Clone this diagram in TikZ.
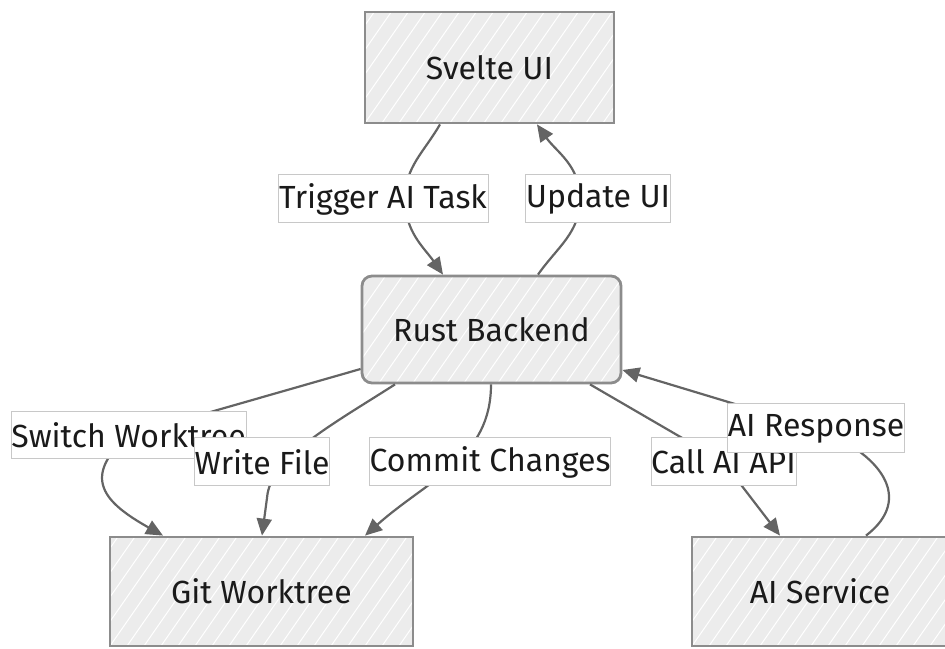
\documentclass[tikz,border=0pt]{standalone}
\usepackage{fontspec}
\setmainfont{Fira Sans}
\usetikzlibrary{arrows.meta,calc}
\definecolor{boxfill}{HTML}{ECECEC}
\definecolor{boxline}{HTML}{8C8C8C}
\definecolor{edgecol}{HTML}{646464}
\definecolor{txt}{HTML}{1A1A1A}
\definecolor{lblline}{HTML}{C8C8C8}
\tikzset{
  hatch/.style={path picture={
    \foreach \i in {-30,...,30}{
      \draw[white,line width=1pt] ($(path picture bounding box.south west)+(\i*17,0)$) -- ++(160,230);
    }}},
  box/.style={draw=boxline, line width=2.8pt, fill=boxfill, hatch, text=txt,
    font=\fontsize{32}{38}\selectfont, inner sep=0pt},
  lbl/.style={draw=lblline, line width=1pt, fill=white, text=txt,
    font=\fontsize{32}{38}\selectfont, inner sep=0pt, minimum height=48pt},
  edge/.style={draw=edgecol, line width=2.2pt},
  arr/.style={edge, -{Triangle[length=17pt,width=15pt]}},
}
\begin{document}
\begin{tikzpicture}[x=1pt,y=1pt]
\useasboundingbox (0,0) rectangle (945,648);
% nodes
\node[box, minimum width=249pt, minimum height=111pt] (svelte) at (489.5,580.5) {Svelte UI};
\node[box, rounded corners=10pt, minimum width=259pt, minimum height=107pt] (rust) at (491.5,318.5) {Rust Backend};
\node[box, minimum width=303pt, minimum height=109pt] (git) at (261.5,56.5) {Git Worktree};
\node[box, minimum width=256pt, minimum height=109pt] (ai) at (820,56.5) {AI Service};
% label positions
\coordinate (c-trig) at (383,449);
\coordinate (c-upd) at (598,449);
\coordinate (c-sw) at (128.5,212.5);
\coordinate (c-wf) at (262,186);
\coordinate (c-cc) at (490,186);
\coordinate (c-call) at (723.5,186);
\coordinate (c-resp) at (816,219.5);
% edges
\draw[arr] (svelte.south -| 440,0) to[out=-120,in=90] (405,449) to[out=-90,in=125] (rust.north -| 443,0);
\draw[arr] (rust.north -| 538,0) to[out=55,in=-90] (580,449) to[out=90,in=-55] (svelte.south -| 537,0);
\draw[arr] (rust.west |- 0,279) -- (c-sw) .. controls (80,170) and (105,145) .. (git.north -| 163,0);
\draw[arr] (rust.south -| 395,0) .. controls (330,222) and (270,190) .. (267,150) .. controls (265,135) .. (git.north -| 262,0);
\draw[arr] (rust.south -| 491,0) .. controls (491,190) and (430,170) .. (git.north -| 365,0);
\draw[arr] (rust.south -| 590,0) -- (c-call) -- (ai.north -| 780,0);
\draw[arr] (ai.north -| 866,0) .. controls (915,150) and (880,195) .. (c-resp) -- (rust.east |- 0,278);
% labels
\node[lbl, minimum width=210pt] (trig) at (c-trig) {Trigger AI Task};
\node[lbl, minimum width=144pt] (upd) at (c-upd) {Update UI};
\node[lbl, minimum width=235pt, minimum height=47pt] (sw) at (c-sw) {Switch Worktree};
\node[lbl, minimum width=134pt] (wf) at (c-wf) {Write File};
\node[lbl, minimum width=240pt] (cc) at (c-cc) {Commit Changes};
\node[lbl, minimum width=145pt] (call) at (c-call) {Call AI API};
\node[lbl, minimum width=176pt, minimum height=49pt] (resp) at (c-resp) {AI Response};
\end{tikzpicture}
\end{document}
